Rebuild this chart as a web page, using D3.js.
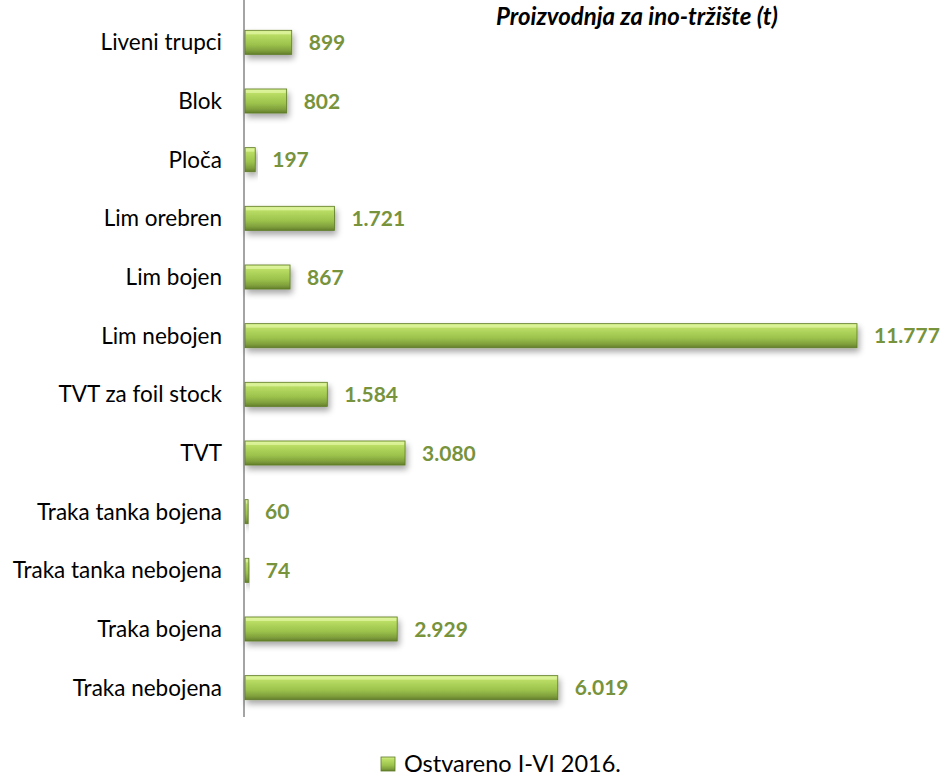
<!DOCTYPE html>
<html>
<head>
  <meta charset="utf-8">
  <title>Proizvodnja za ino-tržište (t)</title>
  <style>
    body { margin: 0; background: #fff; }
    svg { display: block; font-family: Lato, "Open Sans", sans-serif; }
  </style>
</head>
<body>
  <script src="https://cdn.jsdelivr.net/npm/d3@7/dist/d3.min.js"></script>
  <script>
  // data, top to bottom
  var categories = ["Liveni trupci", "Blok", "Ploča", "Lim orebren", "Lim bojen", "Lim nebojen",
                    "TVT za foil stock", "TVT", "Traka tanka bojena", "Traka tanka nebojena",
                    "Traka bojena", "Traka nebojena"];
  var values = [899, 802, 197, 1721, 867, 11777, 1584, 3080, 60, 74, 2929, 6019];
  var seriesName = "Ostvareno I-VI 2016.";
  var title = "Proizvodnja za ino-tržište (t)";

  (function() {
  var W = 943, H = 783;
  var plotLeft = 245, plotTop = 13, plotBottom = 717;

  var svg = d3.select("body").append("svg")
      .attr("width", W).attr("height", H);

  var defs = svg.append("defs");
  var grad = defs.append("linearGradient").attr("id", "barGrad")
      .attr("x1", 0).attr("y1", 0).attr("x2", 0).attr("y2", 1);
  grad.append("stop").attr("offset", "0%").attr("stop-color", "#d4ee8a");
  grad.append("stop").attr("offset", "20%").attr("stop-color", "#b8dc63");
  grad.append("stop").attr("offset", "60%").attr("stop-color", "#9cc24c");
  grad.append("stop").attr("offset", "85%").attr("stop-color", "#7f9f3c");
  grad.append("stop").attr("offset", "100%").attr("stop-color", "#647f2c");

  var shadow = defs.append("filter").attr("id", "shadow")
      .attr("x", "-10%").attr("y", "-30%").attr("width", "130%").attr("height", "200%");
  shadow.append("feGaussianBlur").attr("in", "SourceAlpha").attr("stdDeviation", 3);
  shadow.append("feOffset").attr("dx", 2).attr("dy", 4).attr("result", "b");
  shadow.append("feComponentTransfer").append("feFuncA").attr("type", "linear").attr("slope", 0.35);
  var m = shadow.append("feMerge");
  m.append("feMergeNode");
  m.append("feMergeNode").attr("in", "SourceGraphic");

  var x = d3.scaleLinear().domain([0, 11777]).range([plotLeft, 857]);
  var y = d3.scaleBand().domain(categories).range([plotTop, plotBottom]).paddingInner(0.59).paddingOuter(0.295);

  var fmt = function(v) { return d3.format(",")(v).replace(/,/g, "."); };

  // axis line
  svg.append("line")
      .attr("x1", plotLeft - 1).attr("x2", plotLeft - 1)
      .attr("y1", 0).attr("y2", plotBottom)
      .attr("stroke", "#868686").attr("stroke-width", 1.5);

  // category labels
  svg.selectAll(".cat").data(categories).enter().append("text")
      .attr("x", 222)
      .attr("y", function(d) { return y(d) + y.bandwidth() / 2; })
      .attr("dy", "0.36em")
      .attr("text-anchor", "end")
      .attr("font-size", "22.5px")
      .attr("fill", "#000")
      .text(function(d) { return d; });

  var bars = svg.selectAll(".bar").data(values).enter().append("g")
      .attr("filter", "url(#shadow)");

  bars.append("rect")
      .attr("x", x(0))
      .attr("y", function(d, i) { return y(categories[i]); })
      .attr("width", function(d) { return x(d) - x(0); })
      .attr("height", y.bandwidth())
      .attr("fill", "url(#barGrad)")
      .attr("stroke", "#5d7a26").attr("stroke-width", 0.8);

  // top highlight
  bars.append("rect")
      .attr("x", x(0) + 1)
      .attr("y", function(d, i) { return y(categories[i]) + 1; })
      .attr("width", function(d) { return Math.max(0, x(d) - x(0) - 2); })
      .attr("height", 3)
      .attr("fill", "#e2f6a4").attr("opacity", 0.7);

  // value labels
  svg.selectAll(".val").data(values).enter().append("text")
      .attr("x", function(d) { return x(d) + 17; })
      .attr("y", function(d, i) { return y(categories[i]) + y.bandwidth() / 2; })
      .attr("dy", "0.36em")
      .attr("font-size", "21px")
      .attr("font-weight", "bold")
      .attr("fill", "#77933c")
      .text(function(d) { return fmt(d); });

  // title
  svg.append("text")
      .attr("x", 637).attr("y", 25)
      .attr("text-anchor", "middle")
      .attr("font-size", "24px")
      .attr("font-weight", "bold")
      .attr("font-style", "italic")
      .text(title);

  // legend
  svg.append("rect")
      .attr("x", 381).attr("y", 757).attr("width", 14).attr("height", 14)
      .attr("fill", "url(#barGrad)").attr("stroke", "#5d7a26").attr("stroke-width", 0.8);
  svg.append("text")
      .attr("x", 404).attr("y", 764)
      .attr("dy", "0.36em")
      .attr("font-size", "23.5px")
      .text(seriesName);
  })();
  </script>
</body>
</html>
